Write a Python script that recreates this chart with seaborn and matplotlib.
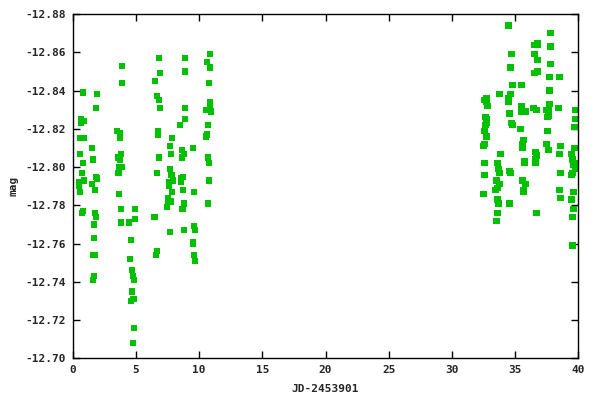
"""Light curve: mag vs JD-2453901 (gnuplot-style scatter)"""
import matplotlib
matplotlib.use('Agg')
import matplotlib.pyplot as plt
import seaborn as sns
import pandas as pd

jd_a = [0.81, 1.92, 1.84, 0.66, 0.89, 0.66, 0.58, 0.89, 1.52, 0.58, 1.60, 0.81,
        0.73, 1.84, 1.92, 0.89, 0.50, 0.50, 1.52, 0.58, 1.76, 0.73, 0.81, 1.76,
        1.84, 1.68, 1.68, 1.60, 1.76, 1.68, 1.60]
mag_a = [-12.839, -12.838, -12.831, -12.825, -12.824, -12.823, -12.815, -12.815,
         -12.810, -12.807, -12.804, -12.802, -12.797, -12.795, -12.794, -12.793,
         -12.792, -12.790, -12.791, -12.787, -12.788, -12.776, -12.777, -12.776,
         -12.774, -12.770, -12.763, -12.754, -12.754, -12.743, -12.741]

jd_b = [3.90, 3.90, 3.50, 3.74, 3.74, 3.82, 3.58, 3.74, 3.90, 3.66, 3.58, 3.66,
        3.66, 3.82, 4.92, 4.92, 3.82, 4.45, 4.61, 4.53, 4.69, 4.76, 4.84, 4.69,
        4.76, 4.84, 4.61, 4.84, 4.76]
mag_b = [-12.853, -12.844, -12.819, -12.818, -12.815, -12.807, -12.805, -12.804,
         -12.800, -12.800, -12.797, -12.797, -12.786, -12.778, -12.778, -12.773,
         -12.771, -12.771, -12.762, -12.752, -12.746, -12.743, -12.741, -12.735,
         -12.731, -12.731, -12.730, -12.716, -12.708]

jd_c = [6.82, 6.90, 6.50, 6.66, 6.82, 6.90, 6.74, 6.74, 6.82, 6.66, 6.46, 6.54,
        6.66, 6.58]
mag_c = [-12.857, -12.849, -12.845, -12.837, -12.835, -12.831, -12.819, -12.817,
         -12.805, -12.797, -12.774, -12.774, -12.756, -12.754]

jd_d = [7.85, 7.69, 7.77, 7.69, 7.85, 7.77, 7.92, 7.61, 7.61, 7.85, 7.53, 7.53,
        7.77, 7.45, 7.69, 8.87, 8.87, 8.87, 8.87, 8.48, 8.64, 8.79, 8.64, 9.50,
        8.71, 8.56, 8.56, 8.71, 9.58, 8.79, 8.64, 8.71, 8.79, 9.58, 9.66, 9.50,
        9.50, 9.58, 9.66]
mag_d = [-12.815, -12.811, -12.807, -12.799, -12.796, -12.796, -12.793, -12.792,
         -12.790, -12.787, -12.784, -12.782, -12.782, -12.779, -12.766, -12.857,
         -12.850, -12.831, -12.825, -12.822, -12.809, -12.807, -12.805, -12.810,
         -12.795, -12.794, -12.792, -12.788, -12.787, -12.781, -12.778, -12.778,
         -12.767, -12.769, -12.767, -12.761, -12.760, -12.754, -12.751]

jd_e = [10.85, 10.61, 10.85, 10.77, 10.85, 10.85, 10.53, 10.93, 10.69, 10.61,
        10.53, 10.69, 10.77, 10.77, 10.69]
mag_e = [-12.859, -12.855, -12.852, -12.844, -12.834, -12.831, -12.830, -12.829,
         -12.822, -12.817, -12.816, -12.805, -12.802, -12.793, -12.781]

jd_f = [32.73, 32.57, 32.73, 32.81, 32.65, 32.73, 32.73, 32.65, 32.57, 32.73,
        32.57, 32.50, 32.57, 32.57, 32.50, 33.76, 33.84, 33.60, 33.68, 33.76,
        33.52, 33.76, 33.60, 33.44, 33.60, 33.68, 33.60, 33.52]
mag_f = [-12.836, -12.835, -12.834, -12.832, -12.826, -12.825, -12.823, -12.822,
         -12.819, -12.816, -12.812, -12.811, -12.802, -12.796, -12.786, -12.838,
         -12.807, -12.802, -12.799, -12.797, -12.793, -12.791, -12.789, -12.788,
         -12.783, -12.781, -12.776, -12.772]

jd_g = [34.47, 34.71, 34.63, 34.79, 35.50, 34.63, 34.47, 34.47, 35.50, 35.50,
        35.81, 34.55, 34.71, 34.79, 35.42, 35.66, 35.58, 35.58, 35.73, 35.73,
        34.55, 34.63, 35.58, 35.81, 35.66, 35.66, 34.55]
mag_g = [-12.874, -12.859, -12.852, -12.843, -12.843, -12.838, -12.836, -12.834,
         -12.832, -12.829, -12.829, -12.828, -12.823, -12.822, -12.820, -12.814,
         -12.812, -12.810, -12.803, -12.802, -12.798, -12.797, -12.793, -12.791,
         -12.788, -12.787, -12.781]

jd_h = [36.53, 36.76, 36.76, 36.53, 36.76, 36.53, 36.76, 36.45, 36.68, 36.60,
        36.68, 36.60, 36.60, 36.68]
mag_h = [-12.864, -12.865, -12.864, -12.859, -12.856, -12.849, -12.850, -12.831,
         -12.830, -12.808, -12.806, -12.804, -12.802, -12.776]

jd_i = [37.79, 37.79, 37.79, 37.71, 38.50, 37.71, 37.71, 37.47, 37.63, 38.42,
        37.63, 37.55, 37.55, 37.47, 37.63, 38.58, 38.50, 38.58, 38.50, 38.58]
mag_i = [-12.870, -12.863, -12.854, -12.847, -12.847, -12.840, -12.833, -12.830,
         -12.830, -12.831, -12.827, -12.826, -12.819, -12.812, -12.809, -12.811,
         -12.807, -12.797, -12.788, -12.784]

jd_j = [39.76, 39.76, 39.69, 39.69, 39.45, 39.53, 39.69, 39.61, 39.76, 39.45,
        39.53, 39.61, 39.45, 39.61, 39.53, 39.53]
mag_j = [-12.830, -12.825, -12.821, -12.810, -12.807, -12.804, -12.802, -12.801,
         -12.799, -12.796, -12.797, -12.787, -12.783, -12.778, -12.774, -12.759]

x_ticks = [0, 5, 10, 15, 20, 25, 30, 35, 40]
y_ticks = [-12.88, -12.86, -12.84, -12.82, -12.80, -12.78, -12.76, -12.74, -12.72, -12.70]

df = pd.DataFrame({
    'jd': jd_a + jd_b + jd_c + jd_d + jd_e + jd_f + jd_g + jd_h + jd_i + jd_j,
    'mag': mag_a + mag_b + mag_c + mag_d + mag_e + mag_f + mag_g + mag_h + mag_i + mag_j,
})

sns.set_theme(style="ticks")
plt.rcParams['font.family'] = ['DejaVu Sans Mono']
plt.rcParams['axes.unicode_minus'] = False

fig = plt.figure(figsize=(6, 4), dpi=100)
ax = fig.add_axes([0.121, 0.104, 0.843, 0.861])

sns.scatterplot(data=df, x='jd', y='mag', marker='s', s=20, color='#00c000',
                edgecolor='none', linewidth=0, ax=ax)

ax.set_xlim(0, 40)
ax.set_ylim(-12.70, -12.88)
ax.set_xticks(x_ticks)
ax.set_yticks(y_ticks)
ax.set_xticklabels([str(t) for t in x_ticks], fontsize=8, fontweight='bold')
ax.set_yticklabels([f"{t:.2f}" for t in y_ticks], fontsize=8, fontweight='bold')
ax.tick_params(direction='in', length=5, width=1, top=True, right=True,
               color='black', pad=5)
for side in ax.spines.values():
    side.set_color('black')
    side.set_linewidth(1)

ax.set_xlabel('JD-2453901', fontsize=8, fontweight='bold', labelpad=6)
ax.set_ylabel('mag', fontsize=8, fontweight='bold', labelpad=5)

fig.savefig('out.png', dpi=100)
plt.close(fig)
